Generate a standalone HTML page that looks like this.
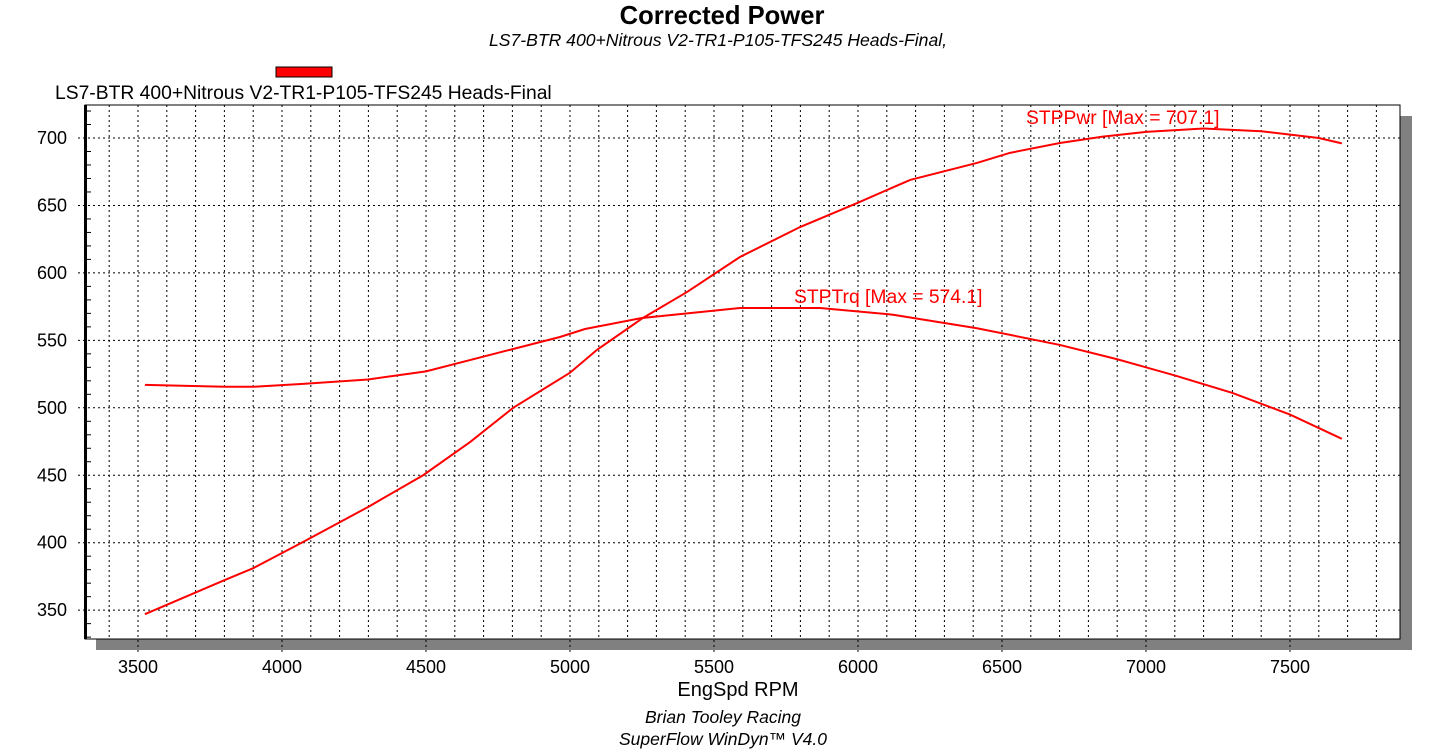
<!DOCTYPE html>
<html><head><meta charset="utf-8"><style>
body{margin:0;background:#fff;}
svg{display:block;font-family:"Liberation Sans",Arial,sans-serif;}
</style></head><body>
<svg width="1445" height="750">
<text x="722" y="24" text-anchor="middle" font-size="25.6" font-weight="bold">Corrected Power</text>
<text x="718" y="46" text-anchor="middle" font-size="17.6" font-style="italic">LS7-BTR 400+Nitrous V2-TR1-P105-TFS245 Heads-Final,</text>
<rect x="276" y="67" width="56" height="10" fill="#ff0000" stroke="#000" stroke-width="1"/>
<text x="55" y="99" font-size="19.3">LS7-BTR 400+Nitrous V2-TR1-P105-TFS245 Heads-Final</text>
<rect x="1400" y="116" width="12" height="534" fill="#808080"/>
<rect x="96" y="639" width="1316" height="11" fill="#808080"/>
<rect x="85" y="105" width="1315" height="534" fill="#fff" stroke="#000" stroke-width="1"/>
<g id="grid"></g>
<g id="ticks"></g>
<line x1="85.5" y1="105" x2="85.5" y2="639" stroke="#000" stroke-width="3"/>
<g id="series"></g>
<text x="1026" y="124" font-size="19.3" fill="#ff0000">STPPwr [Max = 707.1]</text>
<text x="794" y="303" font-size="19.3" fill="#ff0000">STPTrq [Max = 574.1]</text>
<text x="738" y="696" text-anchor="middle" font-size="20">EngSpd RPM</text>
<text x="723" y="723" text-anchor="middle" font-size="17.5" font-style="italic">Brian Tooley Racing</text>
<text x="723" y="745" text-anchor="middle" font-size="17.5" font-style="italic">SuperFlow WinDyn™  V4.0</text>
</svg>
<script>
const xTicks=[3500,4000,4500,5000,5500,6000,6500,7000,7500];
const yTicks=[350,400,450,500,550,600,650,700];
const rpm=[3524,3802,3899,4073,4299,4490,4653,4802,5000,5094,5253,5406,5590,5799,5997,6181,6413,6528,6701,6850,7000,7200,7400,7600,7680];
const power=[347,372.4,381,400.5,426.5,450,474.6,499.9,526,543,566.6,585.8,611.8,634,651.8,668.9,681.5,689,696.3,701,704.5,707,705,700,696];
const trqRpm=[3524,3802,3899,4073,4299,4500,4700,4965,5052,5250,5590,5868,6122,6413,6701,6900,7100,7300,7500,7680];
const torque=[517,515.6,515.6,517.7,521,527,538,552.5,558.4,566.6,574,574,569,559,546.6,536,524,511,495,477];
const NS="http://www.w3.org/2000/svg";
function X(r){return 138+(r-3500)*0.288;}
function Y(v){return 138+(700-v)*1.349;}
function mk(tag,attrs,parent){const e=document.createElementNS(NS,tag);for(const k in attrs)e.setAttribute(k,attrs[k]);parent.appendChild(e);return e;}
const grid=document.getElementById('grid'),ticks=document.getElementById('ticks'),series=document.getElementById('series');
for(let r=3400;r<=7800;r+=100){
  const l=mk('line',{x1:X(r),x2:X(r),y1:105,y2:xTicks.includes(r)?655:639,stroke:'#000','stroke-width':1,'stroke-dasharray':'2,3'},grid);
  
  
}
for(const v of yTicks){
  const l=mk('line',{x1:78,x2:1400,y1:Y(v),y2:Y(v),stroke:'#000','stroke-width':1,'stroke-dasharray':'2,3'},grid);
  
  
  const t=mk('text',{x:67,y:Y(v)+6,'text-anchor':'end','font-size':18},ticks);t.textContent=v;
  
  
}
for(let v=330;v<=720;v+=10){
  if(v%50===0)continue;
  const l=mk('line',{x1:87,x2:91,y1:Y(v),y2:Y(v),stroke:'#000','stroke-width':1},ticks);
  
  
}
for(const r of xTicks){
  const t=mk('text',{x:X(r),y:673,'text-anchor':'middle','font-size':18},ticks);t.textContent=r;
  
  
}
const pp=mk('polyline',{points:rpm.map((r,i)=>X(r)+','+Y(power[i])).join(' '),fill:'none',stroke:'#ff0000','stroke-width':2},series);


const tp=mk('polyline',{points:trqRpm.map((r,i)=>X(r)+','+Y(torque[i])).join(' '),fill:'none',stroke:'#ff0000','stroke-width':2},series);


</script>
</body></html>
